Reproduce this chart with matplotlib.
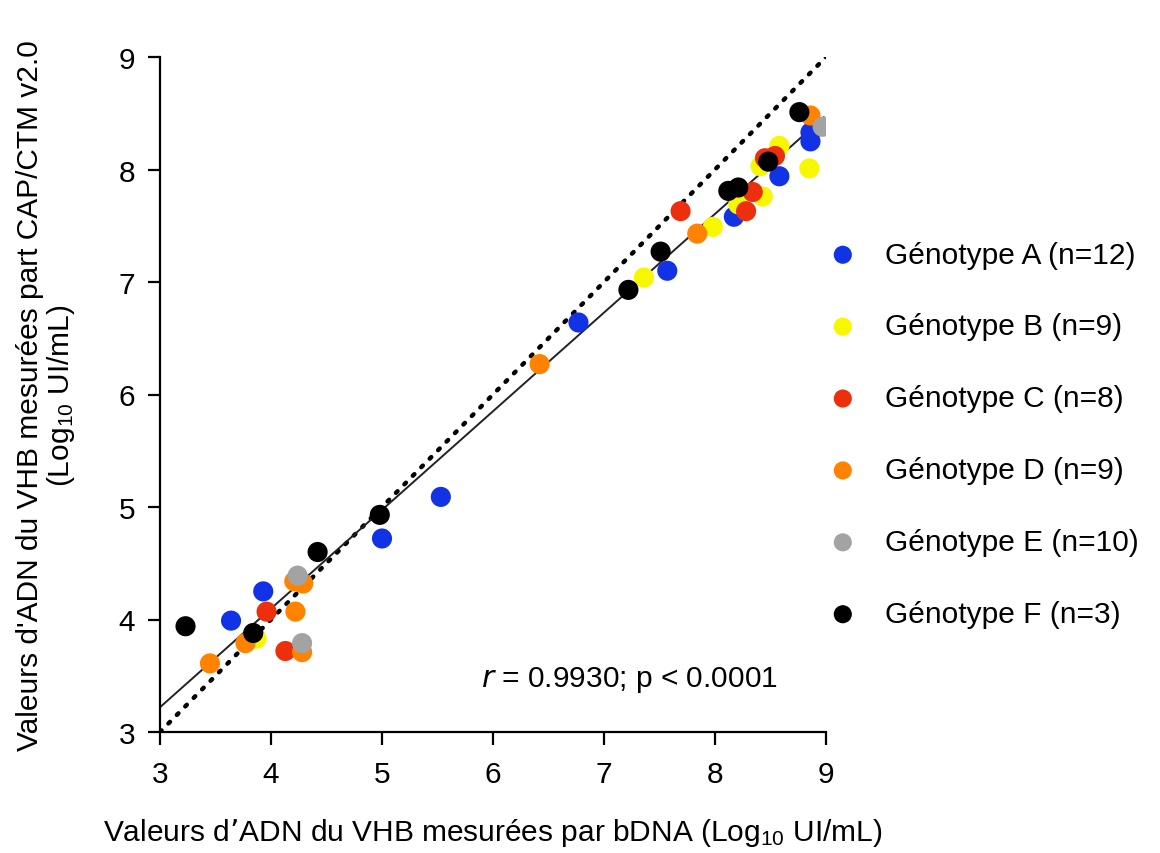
import matplotlib.pyplot as plt
import numpy as np

plt.rcParams['font.family'] = ['Liberation Sans', 'DejaVu Sans']
plt.rcParams['mathtext.default'] = 'regular'

# valeurs (bDNA, CAP/CTM)
geno_a_x = [3.64, 3.93, 5.00, 5.53, 6.77, 7.57, 8.17, 8.58, 8.86, 8.86]
geno_a_y = [3.99, 4.25, 4.72, 5.09, 6.64, 7.10, 7.58, 7.94, 8.33, 8.25]
geno_b_x = [3.87, 7.36, 7.98, 8.21, 8.43, 8.41, 8.58, 8.85]
geno_b_y = [3.83, 7.04, 7.49, 7.69, 7.76, 8.03, 8.21, 8.01]
geno_c_x = [3.96, 4.13, 7.69, 8.28, 8.34, 8.45, 8.54]
geno_c_y = [4.07, 3.72, 7.63, 7.63, 7.80, 8.10, 8.12]
geno_d_x = [3.45, 3.77, 4.21, 4.29, 4.22, 4.28, 6.42, 7.84, 8.86]
geno_d_y = [3.61, 3.79, 4.34, 4.32, 4.07, 3.71, 6.27, 7.43, 8.48]
geno_e_x = [4.24, 4.28, 8.97]
geno_e_y = [4.39, 3.79, 8.38]
geno_f_x = [3.23, 3.84, 4.42, 4.98, 7.22, 7.51, 8.12, 8.21, 8.48, 8.76]
geno_f_y = [3.94, 3.88, 4.60, 4.93, 6.93, 7.27, 7.81, 7.84, 8.07, 8.51]

labels = ['Génotype A (n=12)', 'Génotype B (n=9)', 'Génotype C (n=8)',
          'Génotype D (n=9)', 'Génotype E (n=10)', 'Génotype F (n=3)']
colors = ['#1232e6', '#f7f700', '#ec2f0c', '#ff8200', '#a3a3a3', '#000000']

# droite de régression
reg_intercept = 3.22 - 0.877 * 3
reg_slope = 0.877

fs = 21.5

fig = plt.figure(figsize=(11.6, 8.54), dpi=100)
ax = fig.add_axes([160/1160, 1 - 733/854, 666/1160, 675/854])

ax.plot([3, 9], [3, 9], ls=(0, (0.5, 2.2)), lw=3.2, color='black',
        dash_capstyle='round', zorder=1)
xr = np.array([3, 8.98])
ax.plot(xr, reg_intercept + reg_slope*xr, color='#222222', lw=1.4, zorder=2)

series = [(geno_a_x, geno_a_y), (geno_b_x, geno_b_y), (geno_c_x, geno_c_y),
          (geno_d_x, geno_d_y), (geno_e_x, geno_e_y), (geno_f_x, geno_f_y)]
for (xs, ys), c, lab in zip(series, colors, labels):
    ax.scatter(xs, ys, s=210, color=c, edgecolors='none', label=lab, zorder=3)

ax.set_xlim(3, 9)
ax.set_ylim(3, 9)
ax.set_xticks(range(3, 10))
ax.set_yticks(range(3, 10))
for s in ['top', 'right']:
    ax.spines[s].set_visible(False)
for s in ['left', 'bottom']:
    ax.spines[s].set_linewidth(1.6)
ax.tick_params(direction='out', length=9, width=1.6, labelsize=fs)
ax.tick_params(axis='x', pad=11)
ax.tick_params(axis='y', pad=9)

ax.set_xlabel('Valeurs d’ADN du VHB mesurées par bDNA (Log$_{10}$ UI/mL)',
              fontsize=fs, labelpad=20)
ax.set_ylabel("Valeurs d'ADN du VHB mesurées part CAP/CTM v2.0\n(Log$_{10}$ UI/mL)",
              fontsize=fs, labelpad=30, linespacing=1.05)

ax.text(8.57, 3.47, '$\\it{r}$ = 0.9930; p < 0.0001', fontsize=fs,
        ha='right', va='center')

leg = ax.legend(loc='upper left', bbox_to_anchor=(0.949, 0.759), frameon=False,
                fontsize=fs, labelspacing=1.47, handletextpad=0.4,
                markerscale=0.9, borderaxespad=0.3)

fig.savefig('out.png', dpi=100)
